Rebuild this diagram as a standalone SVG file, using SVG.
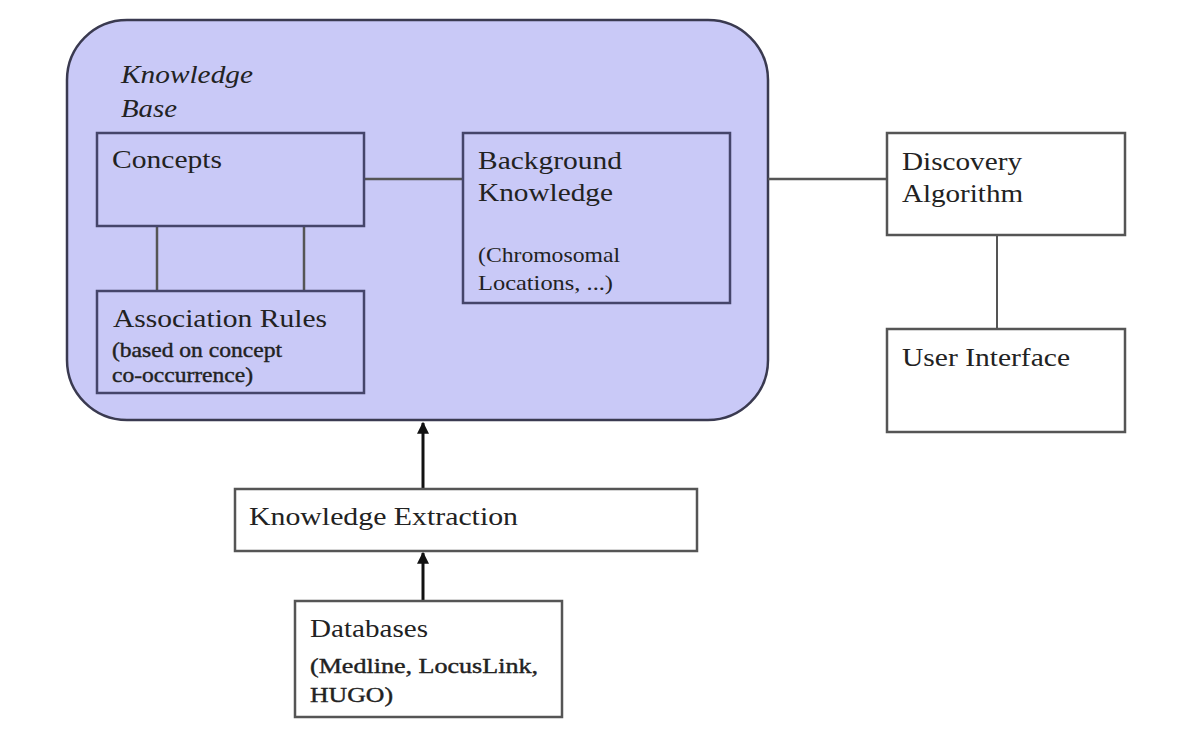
<svg xmlns="http://www.w3.org/2000/svg" width="1190" height="748" viewBox="0 0 1190 748">
<defs>
<style>
text{font-family:"Liberation Serif","Tinos","DejaVu Serif","Times New Roman",Times,serif;fill:#222;}
.h{font-size:26px;}
.s{font-size:21px;}
.b{stroke:#222;stroke-width:0.4;}
.i{font-size:25px;font-style:italic;}
.inner{fill:#c9c9f7;stroke:#45456a;stroke-width:2.5;}
.outer{fill:#ffffff;stroke:#555;stroke-width:2.5;}
.kb{fill:#c9c9f7;stroke:#3a3a50;stroke-width:2.5;}
.ln{stroke:#555;stroke-width:2.5;fill:none;}
.ar{stroke:#111;stroke-width:3;fill:none;}
</style>
<marker id="ah" viewBox="0 0 10 10" refX="9" refY="5" markerWidth="4" markerHeight="4" orient="auto" markerUnits="strokeWidth">
<path d="M0,0 L10,5 L0,10 z" fill="#111"/>
</marker>
</defs>
<rect width="1190" height="748" fill="#ffffff"/>

<g id="knowledge-base">
<rect class="kb" x="67" y="20" width="701" height="400" rx="60" ry="60"/>
<text class="i" x="121" y="83" textLength="132" lengthAdjust="spacingAndGlyphs">Knowledge</text>
<text class="i" x="121" y="117" textLength="56" lengthAdjust="spacingAndGlyphs">Base</text>
</g>

<g id="connectors">
<line class="ln" x1="364" y1="179" x2="463" y2="179"/>
<line class="ln" x1="768" y1="179" x2="887" y2="179"/>
<line class="ln" x1="157" y1="226" x2="157" y2="291"/>
<line class="ln" x1="304" y1="226" x2="304" y2="291"/>
<line class="ln" x1="997" y1="235" x2="997" y2="329" style="stroke-width:2"/>
<line class="ar" x1="423" y1="489" x2="423" y2="423" marker-end="url(#ah)"/>
<line class="ar" x1="423" y1="601" x2="423" y2="553" marker-end="url(#ah)"/>
</g>

<g id="concepts">
<rect class="inner" x="97" y="133" width="267" height="93"/>
<text class="h" x="112" y="168" textLength="110" lengthAdjust="spacingAndGlyphs">Concepts</text>
</g>

<g id="association-rules">
<rect class="inner" x="97" y="291" width="267" height="102"/>
<text class="h" x="113" y="327" textLength="214" lengthAdjust="spacingAndGlyphs">Association Rules</text>
<text class="s b" x="112" y="357" textLength="170" lengthAdjust="spacingAndGlyphs">(based on concept</text>
<text class="s b" x="112" y="382" textLength="141" lengthAdjust="spacingAndGlyphs">co-occurrence)</text>
</g>

<g id="background-knowledge">
<rect class="inner" x="463" y="133" width="267" height="170"/>
<text class="h" x="478" y="169" textLength="144" lengthAdjust="spacingAndGlyphs">Background</text>
<text class="h" x="478" y="201" textLength="135" lengthAdjust="spacingAndGlyphs">Knowledge</text>
<text class="s" x="478" y="262" textLength="142" lengthAdjust="spacingAndGlyphs">(Chromosomal</text>
<text class="s" x="478" y="290" textLength="135" lengthAdjust="spacingAndGlyphs">Locations, ...)</text>
</g>

<g id="discovery-algorithm">
<rect class="outer" x="887" y="133" width="238" height="102"/>
<text class="h" x="902" y="170" textLength="120" lengthAdjust="spacingAndGlyphs">Discovery</text>
<text class="h" x="902" y="202" textLength="121" lengthAdjust="spacingAndGlyphs">Algorithm</text>
</g>

<g id="user-interface">
<rect class="outer" x="887" y="329" width="238" height="103"/>
<text class="h" x="902" y="366" textLength="168" lengthAdjust="spacingAndGlyphs">User Interface</text>
</g>

<g id="knowledge-extraction">
<rect class="outer" x="235" y="489" width="462" height="62"/>
<text class="h" x="249" y="525" textLength="269" lengthAdjust="spacingAndGlyphs">Knowledge Extraction</text>
</g>

<g id="databases">
<rect class="outer" x="295" y="601" width="267" height="116"/>
<text class="h" x="310" y="637" textLength="118" lengthAdjust="spacingAndGlyphs">Databases</text>
<text class="s b" x="310" y="673" textLength="228" lengthAdjust="spacingAndGlyphs">(Medline, LocusLink,</text>
<text class="s b" x="310" y="702" textLength="83" lengthAdjust="spacingAndGlyphs">HUGO)</text>
</g>
</svg>
